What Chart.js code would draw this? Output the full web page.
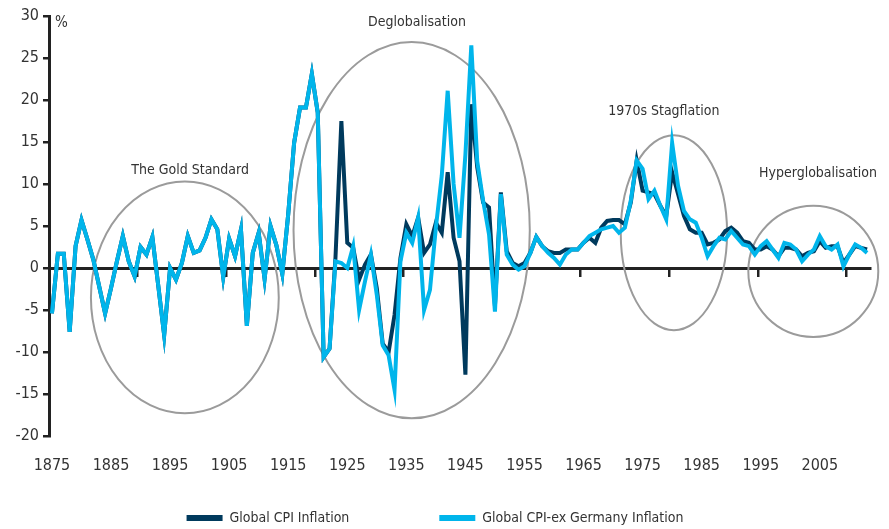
<!DOCTYPE html>
<html>
<head>
<meta charset="utf-8">
<title>Global CPI inflation</title>
<script src="https://cdn.jsdelivr.net/npm/chart.js@4.4.0/dist/chart.umd.min.js"></script>
<style>
    html, body { margin: 0; padding: 0; background: #fff; }
    #wrap { width: 889px; height: 529px; position: relative; }
</style>
</head>
<body>
<div id="wrap"><canvas id="inflationChart"></canvas></div>
<script>
var firstYear = 1875;
var lastYear = 2013;

// Global CPI inflation, % y/y, 1875-2013
var globalCpi = [
    -5.4, 1.7, 1.7, -7.6, 2.6, 5.7, 3.4, 1.0, -2.2, -5.4,
    -2.4, 0.8, 3.8, 0.8, -1.0, 2.5, 1.6, 3.7, -2.1, -8.0,
    0.0, -1.4, 0.6, 3.8, 1.8, 2.1, 3.6, 5.8, 4.6, -1.1,
    3.5, 1.4, 4.6, -6.9, 1.8, 4.2, -1.3, 5.0, 2.7, -0.7,
    6.4, 14.9, 19.1, 19.1, 23.1, 18.5, -10.6, -9.6, 1.2, 17.5,
    3.0, 2.4, -1.4, 0.4, 1.6, -2.4, -9.0, -10.0, -5.6, 1.2,
    5.2, 3.8, 6.0, 1.8, 2.8, 5.4, 4.2, 11.4, 3.6, 0.8,
    -12.7, 19.5, 12.0, 7.8, 7.2, -4.5, 9.0, 2.0, 0.6, 0.2,
    0.6, 1.8, 3.7, 2.6, 2.0, 1.8, 1.8, 2.2, 2.2, 2.2,
    3.0, 3.6, 3.0, 4.8, 5.6, 5.7, 5.7, 5.2, 7.8, 12.8,
    9.2, 9.0, 8.8, 7.4, 6.2, 11.4, 8.8, 6.2, 4.6, 4.2,
    4.2, 2.8, 3.0, 3.4, 4.4, 4.8, 4.2, 3.2, 3.0, 2.2,
    2.2, 2.6, 2.2, 1.4, 2.4, 2.4, 2.2, 1.4, 1.8, 2.0,
    3.2, 2.4, 2.6, 2.6, 0.6, 1.6, 2.6, 2.4, 2.2
];

// Global CPI ex Germany inflation, % y/y, 1875-2013
var exGermanyCpi = [
    -5.4, 1.7, 1.7, -7.6, 2.6, 5.7, 3.4, 1.0, -2.2, -5.4,
    -2.4, 0.8, 3.8, 0.8, -1.0, 2.5, 1.6, 3.7, -2.1, -8.0,
    0.0, -1.4, 0.6, 3.8, 1.8, 2.1, 3.6, 5.8, 4.6, -1.1,
    3.5, 1.4, 4.6, -6.9, 1.8, 4.2, -1.3, 5.0, 2.7, -0.7,
    6.4, 14.9, 19.1, 19.1, 23.1, 18.5, -10.6, -9.6, 0.8, 0.6,
    0.0, 2.6, -5.0, -1.6, 1.6, -3.2, -9.2, -10.4, -14.5, 0.8,
    4.2, 3.0, 6.0, -5.0, -2.6, 4.8, 11.0, 21.1, 10.0, 3.6,
    13.5, 26.5, 12.7, 8.0, 4.0, -5.2, 8.8, 1.6, 0.4, -0.2,
    0.2, 1.8, 3.7, 2.6, 1.8, 1.2, 0.4, 1.6, 2.2, 2.2,
    3.0, 3.8, 4.2, 4.6, 4.8, 5.0, 4.2, 4.8, 8.0, 12.8,
    11.8, 8.2, 9.2, 7.4, 5.8, 14.9, 9.8, 6.8, 5.8, 5.4,
    3.6, 1.4, 2.6, 3.6, 3.4, 4.4, 3.6, 2.8, 2.6, 1.6,
    2.6, 3.2, 2.2, 1.2, 3.0, 2.8, 2.2, 0.8, 1.6, 2.2,
    3.8, 2.6, 2.2, 2.8, 0.2, 1.6, 2.8, 2.4, 1.8
];

var seriesNames = ['Global CPI Inflation', 'Global CPI-ex Germany Inflation'];
var seriesColors = ['#003a5d', '#00b5eb'];

// circled periods: centre (year, %) and half axes (years, %)
var zoneNames = ['The Gold Standard', 'Deglobalisation', '1970s Stagflation', 'Hyperglobalisation'];
var zoneYear = [1897.5, 1935.9, 1980.3, 2003.9];
var zoneValue = [-3.5, 4.5, 4.2, -0.4];
var zoneHalfYears = [15.9, 20.0, 9.0, 11.0];
var zoneHalfValue = [13.8, 22.4, 11.6, 7.8];
var zoneLabelYear = [1898.4, 1936.8, 1978.6, 2004.7];
var zoneLabelValue = [11.6, 29.3, 18.7, 11.3];

var years = [];
for (var y = firstYear; y <= lastYear; y++) {
    years.push(String(y));
}

var textFont = '"Liberation Sans Narrow", "DejaVu Sans Condensed", "Arial Narrow", sans-serif';
var textColor = '#333333';
var axisColor = '#222222';

var zonePlugin = {
    id: 'zones',
    beforeDatasetsDraw: function (chart) {
        var ctx = chart.ctx;
        var xs = chart.scales.x;
        var ys = chart.scales.y;
        ctx.save();
        for (var i = 0; i < zoneNames.length; i++) {
            var cx = xs.getPixelForValue(zoneYear[i] - firstYear);
            var rx = xs.getPixelForValue(zoneYear[i] + zoneHalfYears[i] - firstYear) - cx;
            var cy = ys.getPixelForValue(zoneValue[i]);
            var ry = cy - ys.getPixelForValue(zoneValue[i] + zoneHalfValue[i]);
            ctx.beginPath();
            ctx.ellipse(cx, cy, rx, ry, 0, 0, Math.PI * 2);
            ctx.strokeStyle = '#9b9b9b';
            ctx.lineWidth = 2;
            ctx.stroke();

            ctx.fillStyle = textColor;
            ctx.font = '14px ' + textFont;
            ctx.textAlign = 'center';
            ctx.textBaseline = 'middle';
            ctx.fillText(zoneNames[i],
                xs.getPixelForValue(zoneLabelYear[i] - firstYear),
                ys.getPixelForValue(zoneLabelValue[i]));
        }
        // unit label next to the top of the value axis
        ctx.font = '15px ' + textFont;
        ctx.textAlign = 'left';
        ctx.fillText('%', chart.chartArea.left + 6, chart.chartArea.top + 7);
        ctx.restore();
    }
};

var ctx = document.getElementById('inflationChart').getContext('2d');
new Chart(ctx, {
    type: 'line',
    data: {
        labels: years,
        datasets: [
            {
                label: seriesNames[0],
                data: globalCpi,
                borderColor: seriesColors[0],
                backgroundColor: seriesColors[0],
                borderWidth: 4,
                pointRadius: 0,
                tension: 0,
                order: 1
            }, {
                label: seriesNames[1],
                data: exGermanyCpi,
                borderColor: seriesColors[1],
                backgroundColor: seriesColors[1],
                borderWidth: 4,
                pointRadius: 0,
                tension: 0,
                order: 0
            }
        ]
    },
    options: {
        responsive: true,
        maintainAspectRatio: false,
        animation: false,
        layout: { padding: { top: 16, right: 19, left: 0, bottom: -6 } },
        plugins: {
            tooltip: { enabled: false },
            legend: {
                position: 'bottom',
                labels: {
                    color: textColor,
                    font: { family: textFont, size: 14 },
                    boxWidth: 36,
                    boxHeight: 6,
                    padding: 10,
                    sort: function (a, b) { return a.datasetIndex - b.datasetIndex; },
                    generateLabels: function (chart) {
                        var items = Chart.defaults.plugins.legend.labels.generateLabels(chart);
                        items.forEach(function (item) {
                            item.lineWidth = 0;
                            // widen the gap between the two entries
                            if (item.datasetIndex === 0) {
                                item.text = item.text + '                    ';
                            }
                        });
                        return items;
                    }
                }
            }
        },
        scales: {
            x: {
                type: 'category',
                position: 'bottom',
                offset: true,
                grid: { display: false },
                border: { display: false },
                ticks: {
                    autoSkip: false,
                    maxRotation: 0,
                    padding: 12,
                    color: textColor,
                    font: { family: textFont, size: 16 },
                    callback: function (value, index) {
                        var yr = Number(years[index]);
                        return (yr - firstYear) % 10 === 0 ? years[index] : '';
                    }
                },
                afterFit: function (scale) { scale.height = 65; }
            },
            xZero: {
                type: 'category',
                axis: 'x',
                position: { y: 0 },
                offset: true,
                grid: {
                    drawOnChartArea: false,
                    offset: true,
                    tickLength: 7,
                    lineWidth: 2.5,
                    color: function (c) {
                        return (c.index > 0 && c.index % 15 === 0) ? axisColor : 'rgba(0,0,0,0)';
                    }
                },
                border: { color: axisColor, width: 3 },
                ticks: { display: false, autoSkip: false }
            },
            y: {
                min: -20,
                max: 30,
                ticks: {
                    stepSize: 5,
                    padding: 4,
                    color: textColor,
                    font: { family: textFont, size: 16 }
                },
                grid: { drawOnChartArea: false, tickLength: 6, lineWidth: 2.5, color: axisColor },
                border: { color: axisColor, width: 3 },
                afterFit: function (scale) { scale.width = 49; }
            }
        }
    },
    plugins: [zonePlugin]
});
</script>
</body>
</html>
